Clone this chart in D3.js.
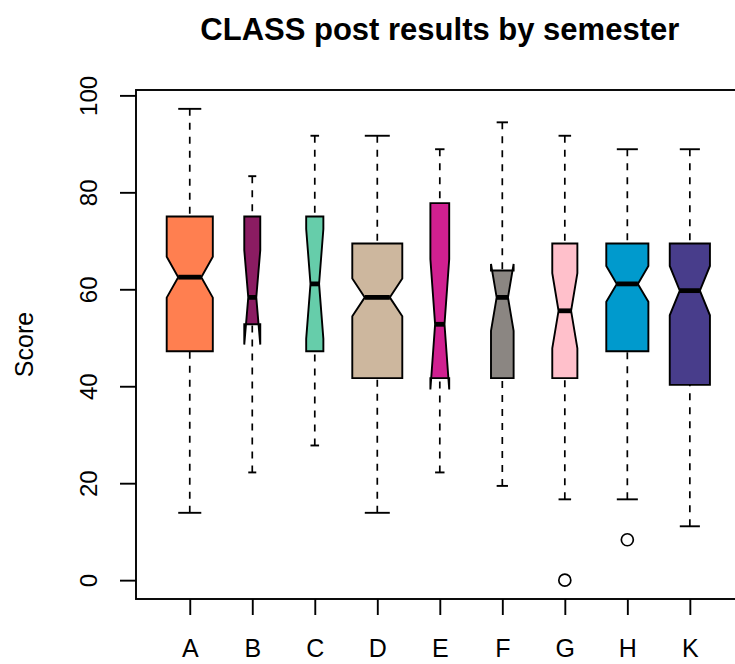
<!DOCTYPE html>
<html>
<head>
<meta charset="utf-8">
<script src="https://cdn.jsdelivr.net/npm/d3@7"></script>
<style>
  html, body { margin: 0; padding: 0; background: #ffffff; }
  svg text { font-family: "Liberation Sans", Arial, Helvetica, sans-serif; fill: #000; }
</style>
</head>
<body>
<script>
// CLASS post-test scores (percent) by semester, as five-number summaries.
const semesters   = ["A", "B", "C", "D", "E", "F", "G", "H", "K"];
const counts      = [108, 13, 15, 127, 18, 26, 32, 90, 82];
const whiskerLow  = [13.89, 22.22, 27.78, 13.89, 22.22, 19.44, 16.67, 16.67, 11.11];
const lowerHinge  = [47.22, 52.78, 47.22, 41.67, 41.67, 41.67, 41.67, 47.22, 40.28];
const medians     = [62.50, 58.33, 61.11, 58.33, 52.78, 58.33, 55.56, 61.11, 59.72];
const upperHinge  = [75.00, 75.00, 75.00, 69.44, 77.78, 63.89, 69.44, 69.44, 69.44];
const whiskerHigh = [97.22, 83.33, 91.67, 91.67, 88.89, 94.44, 91.67, 88.89, 88.89];
const outliers    = [[], [], [], [], [], [], [0], [8.33], []];
const fills       = ["#FF7F50", "#8B1C62", "#66CDAA", "#CDB79E", "#D02090",
                     "#8B8682", "#FFC0CB", "#009ACD", "#483D8B"];
const yTicks      = [0, 20, 40, 60, 80, 100];

const W = 735, H = 664;
const plot = { left: 136, right: 743.6, top: 90, bottom: 599 };

const svg = d3.select("body").append("svg")
  .attr("width", W).attr("height", H);

// R-style 4% axis extension around the data / box positions
const xLim = [0.5, semesters.length + 0.5];
const xPad = (xLim[1] - xLim[0]) * 0.04;
const x = d3.scaleLinear()
  .domain([xLim[0] - xPad, xLim[1] + xPad])
  .range([plot.left, plot.right]);

const allVals = whiskerLow.concat(whiskerHigh, outliers.flat());
const yMin = d3.min(allVals), yMax = d3.max(allVals);
const yPad = (yMax - yMin) * 0.04;
const y = d3.scaleLinear()
  .domain([yMin - yPad, yMax + yPad])
  .range([plot.bottom, plot.top]);

const unit = x(2) - x(1);
const maxRoot = d3.max(counts, n => Math.sqrt(n));

const data = semesters.map((s, i) => {
  const n = counts[i];
  const iqr = upperHinge[i] - lowerHinge[i];
  const notch = 1.58 * iqr / Math.sqrt(n);
  return {
    key: s, pos: i + 1, n,
    lo: whiskerLow[i], q1: lowerHinge[i], med: medians[i],
    q3: upperHinge[i], hi: whiskerHigh[i],
    confLo: medians[i] - notch, confHi: medians[i] + notch,
    out: outliers[i], fill: fills[i],
    half: 0.8 * unit * Math.sqrt(n) / maxRoot / 2
  };
});

const plotArea = svg.append("g");

const groups = plotArea.selectAll("g.box").data(data).enter()
  .append("g").attr("class", "box");

// dashed whiskers, drawn from the whisker end toward the hinge
groups.append("line")
  .attr("x1", d => x(d.pos)).attr("x2", d => x(d.pos))
  .attr("y1", d => y(d.lo)).attr("y2", d => y(d.q1))
  .attr("stroke", "#000").attr("stroke-width", 1.7)
  .attr("stroke-dasharray", "7,7");
groups.append("line")
  .attr("x1", d => x(d.pos)).attr("x2", d => x(d.pos))
  .attr("y1", d => y(d.hi)).attr("y2", d => y(d.q3))
  .attr("stroke", "#000").attr("stroke-width", 1.7)
  .attr("stroke-dasharray", "7,7");

// staples
["lo", "hi"].forEach(k => {
  groups.append("line")
    .attr("x1", d => x(d.pos) - d.half * 0.5)
    .attr("x2", d => x(d.pos) + d.half * 0.5)
    .attr("y1", d => y(d[k])).attr("y2", d => y(d[k]))
    .attr("stroke", "#000").attr("stroke-width", 1.9);
});

// notched boxes
const line = d3.line();
groups.append("path")
  .attr("d", d => {
    const cx = x(d.pos), w = d.half, f = 0.5;
    const pts = [
      [cx - w, y(d.q1)], [cx + w, y(d.q1)], [cx + w, y(d.confLo)],
      [cx + w * f, y(d.med)], [cx + w, y(d.confHi)], [cx + w, y(d.q3)],
      [cx - w, y(d.q3)], [cx - w, y(d.confHi)], [cx - w * f, y(d.med)],
      [cx - w, y(d.confLo)]
    ];
    return line(pts) + "Z";
  })
  .attr("fill", d => d.fill)
  .attr("stroke", "#000").attr("stroke-width", 1.9)
  .attr("stroke-linejoin", "miter");

// medians
groups.append("line")
  .attr("x1", d => x(d.pos) - d.half * 0.5)
  .attr("x2", d => x(d.pos) + d.half * 0.5)
  .attr("y1", d => y(d.med)).attr("y2", d => y(d.med))
  .attr("stroke", "#000").attr("stroke-width", 4.8);

// outliers
groups.selectAll("circle").data(d => d.out.map(v => ({ pos: d.pos, v })))
  .enter().append("circle")
  .attr("cx", d => x(d.pos)).attr("cy", d => y(d.v)).attr("r", 6)
  .attr("fill", "none").attr("stroke", "#000").attr("stroke-width", 1.7);

// frame
svg.append("rect")
  .attr("x", plot.left).attr("y", plot.top)
  .attr("width", plot.right - plot.left).attr("height", plot.bottom - plot.top)
  .attr("fill", "none").attr("stroke", "#000").attr("stroke-width", 1.9);

// y axis with rotated labels
const yAxis = svg.append("g")
  .attr("transform", `translate(${plot.left},0)`)
  .call(d3.axisLeft(y).tickValues(yTicks).tickSize(16).tickFormat(d3.format("d")));
yAxis.select(".domain").remove();
yAxis.selectAll(".tick line").attr("stroke", "#000").attr("stroke-width", 1.9);
yAxis.selectAll(".tick text")
  .attr("transform", "rotate(-90)")
  .attr("x", 0).attr("y", -39).attr("dy", null)
  .attr("text-anchor", "middle")
  .style("font-size", "24px");

// x axis
const xAxis = svg.append("g")
  .attr("transform", `translate(0,${plot.bottom})`)
  .call(d3.axisBottom(x).tickValues(data.map(d => d.pos))
    .tickFormat((d, i) => semesters[i]).tickSize(16));
xAxis.select(".domain").remove();
xAxis.selectAll(".tick line").attr("stroke", "#000").attr("stroke-width", 1.9);
xAxis.selectAll(".tick text")
  .attr("y", 58).attr("dy", null)
  .style("font-size", "25px");

// y axis title
svg.append("text")
  .attr("transform", `translate(33,${(plot.top + plot.bottom) / 2}) rotate(-90)`)
  .attr("text-anchor", "middle")
  .style("font-size", "25px")
  .text("Score");

// main title
svg.append("text")
  .attr("x", (plot.left + plot.right) / 2).attr("y", 40)
  .attr("text-anchor", "middle")
  .style("font-size", "31px").style("font-weight", "bold")
  .text("CLASS post results by semester");
</script>
</body>
</html>
